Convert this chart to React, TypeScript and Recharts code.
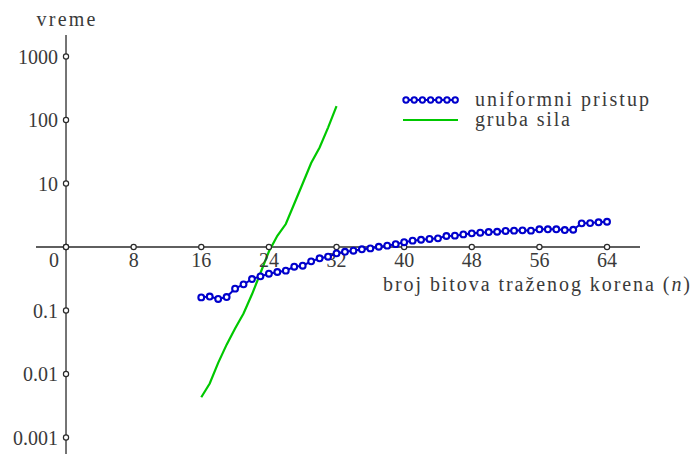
import React from "react";
import {
  ComposedChart,
  Line,
  Scatter,
  XAxis,
  YAxis,
  ReferenceLine,
  Legend,
} from "recharts";

// n = broj bitova, vreme u log skali
const nUniform = [
  16, 17, 18, 19, 20, 21, 22, 23, 24, 25, 26, 27, 28, 29, 30, 31, 32, 33, 34, 35,
  36, 37, 38, 39, 40, 41, 42, 43, 44, 45, 46, 47, 48, 49, 50, 51, 52, 53, 54, 55,
  56, 57, 58, 59, 60, 61, 62, 63, 64,
];
const timeUniform = [
  0.161, 0.166, 0.152, 0.163, 0.221, 0.258, 0.313, 0.345, 0.38, 0.404, 0.424, 0.49,
  0.508, 0.594, 0.664, 0.704, 0.795, 0.84, 0.875, 0.92, 0.95, 1.01, 1.05, 1.11, 1.19,
  1.26, 1.3, 1.34, 1.37, 1.49, 1.51, 1.58, 1.64, 1.68, 1.72, 1.74, 1.79, 1.81, 1.83,
  1.81, 1.9, 1.9, 1.9, 1.85, 1.87, 2.36, 2.38, 2.45, 2.5,
];

const nBrute = [16, 17, 18, 19, 20, 21, 22, 23, 24, 25, 26, 27, 28, 29, 30, 31, 32];
const timeBrute = [
  0.0043, 0.0071, 0.015, 0.029, 0.052, 0.09, 0.18, 0.39, 0.85, 1.5, 2.3, 4.8, 10, 21,
  37, 76, 165,
];

const xTicks = [0, 8, 16, 24, 32, 40, 48, 56, 64];
const yTicks = [0.001, 0.01, 0.1, 1, 10, 100, 1000];
const yTickLabels = ["0.001", "0.01", "0.1", "", "10", "100", "1000"];

const BLUE = "#0000cc";
const GREEN = "#00c800";
const INK = "#3a3a3a";
const AXIS = "#2a2a2a";
const FONT = '"Liberation Serif", "DejaVu Serif", serif';
const txt = { fontFamily: FONT, fontSize: 20 };

const uniformData = nUniform.map((n, i) => ({ n, t: timeUniform[i] }));
const bruteData = nBrute.map((n, i) => ({ n, t: timeBrute[i] }));
const xTickData = xTicks.map((n) => ({ n, t: 1, label: String(n) }));
const yTickData = yTicks.map((t, i) => ({ n: 0, t, label: yTickLabels[i] }));

function XTick(props: any) {
  const { cx, cy, payload } = props;
  const tx = payload.n === 0 ? cx - 12 : cx;
  return (
    <g>
      <circle cx={cx} cy={cy} r={2.6} fill="#fff" stroke={AXIS} strokeWidth={1.2} />
      <text x={tx} y={cy + 20} textAnchor="middle" style={txt} fill={INK}>
        {payload.label}
      </text>
    </g>
  );
}

function YTick(props: any) {
  const { cx, cy, payload } = props;
  return (
    <g>
      <circle cx={cx} cy={cy} r={2.6} fill="#fff" stroke={AXIS} strokeWidth={1.2} />
      {payload.label && (
        <text x={cx - 8} y={cy + 7} textAnchor="end" style={txt} fill={INK}>
          {payload.label}
        </text>
      )}
    </g>
  );
}

function BlueDot(props: any) {
  const { cx, cy } = props;
  if (cx == null || cy == null) return null;
  return <circle cx={cx} cy={cy} r={2.9} fill="#fff" stroke={BLUE} strokeWidth={2.1} />;
}

const legendDots = [0, 1, 2, 3, 4, 5, 6];

function LegendBox() {
  return (
    <svg width={280} height={50} style={{ display: "block" }}>
      <line x1={8} y1={15} x2={63} y2={15} stroke={BLUE} strokeWidth={2} />
      {legendDots.map((i) => (
        <circle key={i} cx={11 + i * 8.2} cy={15} r={2.7} fill="#fff" stroke={BLUE} strokeWidth={2} />
      ))}
      <text x={80} y={21} style={txt} fill={INK} textLength={174} lengthAdjust="spacing">
        uniformni pristup
      </text>
      <line x1={8} y1={35} x2={63} y2={35} stroke={GREEN} strokeWidth={2.2} />
      <text x={80} y={41} style={txt} fill={INK} textLength={95} lengthAdjust="spacing">
        gruba sila
      </text>
    </svg>
  );
}

export default function App() {
  return (
    <div style={{ position: "absolute", left: 0, top: 0 }}>
      <ComposedChart
        width={696}
        height={454}
        margin={{ top: 35, right: 56, bottom: 0, left: 36 }}
      >
        <XAxis type="number" dataKey="n" domain={[-3.55, 67.9]} hide />
        <YAxis type="number" dataKey="t" scale="log" domain={[0.00055, 2181]} hide />
        <ReferenceLine y={1} stroke={AXIS} strokeWidth={1.3} />
        <ReferenceLine x={0} stroke={AXIS} strokeWidth={1.3} />
        <Line
          data={bruteData}
          dataKey="t"
          stroke={GREEN}
          strokeWidth={2.2}
          dot={false}
          isAnimationActive={false}
        />
        <Line
          data={uniformData}
          dataKey="t"
          stroke={BLUE}
          strokeWidth={2}
          dot={<BlueDot />}
          isAnimationActive={false}
        />
        <Scatter data={xTickData} dataKey="t" shape={<XTick />} isAnimationActive={false} />
        <Scatter data={yTickData} dataKey="t" shape={<YTick />} isAnimationActive={false} />
        <Legend
          layout="horizontal"
          verticalAlign="middle"
          content={() => <LegendBox />}
          wrapperStyle={{ position: "absolute", left: 395, top: 85, width: 280 }}
        />
        <text x={66} y={26} textAnchor="middle" style={txt} fill={INK} textLength={59} lengthAdjust="spacing">
          vreme
        </text>
        <text x={383} y={291} style={txt} fill={INK} textLength={307} lengthAdjust="spacing">
          broj bitova traženog korena (<tspan fontStyle="italic">n</tspan>)
        </text>
      </ComposedChart>
    </div>
  );
}
